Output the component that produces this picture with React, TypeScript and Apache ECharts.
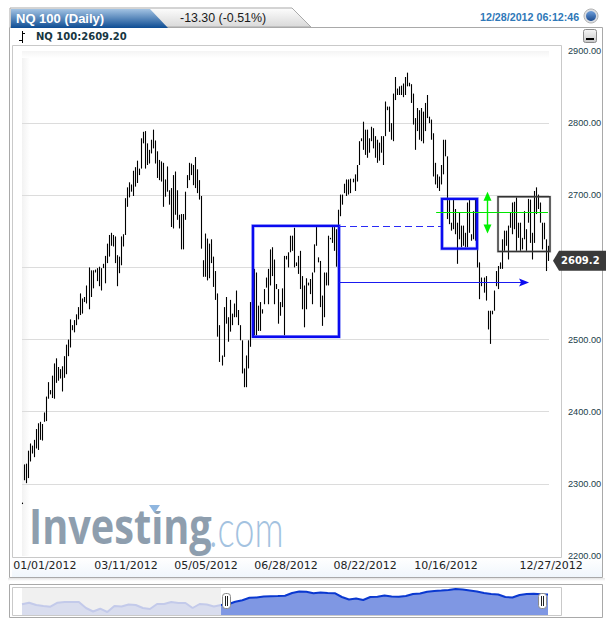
import React, { useEffect, useRef } from "react";
import * as echarts from "echarts";

const W = 613;
const H = 627;

const title = "NQ 100 (Daily)";
const change = "-13.30 (-0.51%)";
const stamp = "12/28/2012 06:12:46";
const legendText = "NQ 100:2609.20";
const lastPrice = 2609.2;
const lastPriceText = "2609.2";
const priceTicks = { min: 2200, max: 2900, interval: 100 };
const coveredTick = 2600;

const dateLabels = ["01/01/2012", "03/11/2012", "05/05/2012", "06/28/2012", "08/22/2012", "10/16/2012", "12/27/2012"];
const dateLabelBars = [6.9, 47.1, 86.8, 126.5, 165.8, 205.9, 258.1];

// daily [high, low]
const highLow: number[][] = [
  [2274, 2272],
  [2327, 2305], [2328, 2301], [2346, 2308], [2356, 2331], [2353, 2342], [2361, 2337], [2376, 2349], [2384, 2347],
  [2386, 2361], [2383, 2360], [2399, 2386], [2421, 2387], [2441, 2418], [2430, 2424],
  [2450, 2419], [2467, 2418], [2474, 2440], [2462, 2443], [2459, 2446], [2463, 2428], [2477, 2447], [2493, 2452],
  [2500, 2477], [2528, 2489], [2520, 2513], [2527, 2510], [2535, 2520], [2545, 2528], [2564, 2534], [2557, 2536],
  [2559, 2552], [2575, 2550], [2600, 2542], [2596, 2559], [2596, 2571], [2597, 2593], [2599, 2581], [2601, 2574],
  [2599, 2568], [2605, 2599], [2616, 2578], [2633, 2606], [2645, 2615], [2648, 2630], [2645, 2629], [2643, 2606],
  [2617, 2574], [2615, 2592], [2643, 2603], [2646, 2629], [2696, 2645], [2711, 2684], [2718, 2697], [2715, 2705],
  [2734, 2699], [2739, 2712], [2748, 2717], [2737, 2728], [2779, 2737], [2788, 2772], [2789, 2737],
  [2772, 2742], [2763, 2744], [2777, 2758], [2791, 2765], [2776, 2744], [2761, 2724], [2749, 2721], [2747, 2719],
  [2745, 2684], [2722, 2698], [2740, 2705], [2707, 2687], [2710, 2656], [2728, 2654], [2733, 2673], [2707, 2666],
  [2673, 2654], [2674, 2625], [2674, 2625], [2705, 2666], [2728, 2710], [2745, 2721], [2744, 2728], [2742, 2714],
  [2753, 2710], [2736, 2703], [2721, 2694], [2699, 2626], [2610, 2587], [2647, 2587], [2640, 2582], [2633, 2585],
  [2639, 2606], [2615, 2573], [2595, 2555], [2564, 2504], [2520, 2469], [2478, 2464], [2545, 2476], [2559, 2522],
  [2531, 2497], [2555, 2511], [2536, 2520], [2550, 2531], [2568, 2531], [2541, 2520], [2520, 2499], [2499, 2453],
  [2460, 2434], [2478, 2434], [2499, 2460], [2552, 2490],
  [2571, 2533], [2598, 2506], [2593, 2506], [2547, 2512], [2552, 2512], [2542, 2536], [2570, 2549], [2586, 2572],
  [2598, 2549], [2625, 2575], [2628, 2588], [2611, 2549], [2577, 2570], [2570, 2522], [2552, 2533], [2571, 2545],
  [2616, 2506], [2616, 2611], [2621, 2600], [2644, 2621], [2644, 2623], [2655, 2600], [2607, 2602], [2616, 2591],
  [2623, 2570], [2588, 2542], [2575, 2517], [2585, 2542], [2579, 2575], [2584, 2563], [2593, 2549], [2632, 2593],
  [2657, 2630], [2614, 2607], [2609, 2545], [2561, 2519], [2593, 2531], [2593, 2575], [2644, 2575], [2641, 2639],
  [2657, 2634], [2657, 2623], [2653, 2601], [2680, 2616], [2701, 2671], [2701, 2687], [2716, 2703], [2722, 2699],
  [2722, 2701], [2723, 2703], [2723, 2718], [2729, 2706], [2742, 2719], [2775, 2742], [2779, 2775], [2802, 2763],
  [2791, 2756], [2791, 2752], [2779, 2759], [2795, 2775], [2793, 2765], [2782, 2752], [2777, 2745], [2773, 2748],
  [2782, 2759], [2782, 2742], [2830, 2782], [2823, 2818], [2823, 2788], [2800, 2777], [2841, 2775], [2864, 2832],
  [2848, 2839],
  [2851, 2839], [2852, 2839], [2855, 2836], [2864, 2839], [2870, 2851], [2856, 2851], [2854, 2828], [2841, 2798],
  [2807, 2763], [2821, 2789], [2818, 2777], [2821, 2775], [2816, 2772], [2828, 2789], [2839, 2807], [2809, 2800],
  [2805, 2777], [2786, 2726], [2745, 2715], [2729, 2710], [2726, 2706], [2742, 2715], [2777, 2729], [2777, 2754],
  [2754, 2667],
  [2694, 2660], [2662, 2651], [2694, 2653], [2681, 2646], [2662, 2605], [2676, 2639], [2658, 2628], [2658, 2630],
  [2648, 2628], [2690, 2628], [2694, 2648], [2646, 2637], [2678, 2639], [2694, 2637], [2625, 2600], [2607, 2556], [2586, 2574],
  [2586, 2565], [2588, 2554], [2540, 2514], [2540, 2494], [2540, 2535], [2568, 2540], [2595, 2574], [2602, 2570],
  [2607, 2598], [2639, 2598], [2651, 2623], [2651, 2630], [2658, 2611], [2676, 2655], [2690, 2646], [2691, 2653],
  [2697, 2623], [2662, 2641], [2662, 2623], [2641, 2625], [2678, 2639], [2653, 2623], [2695, 2662], [2694, 2634], [2648, 2611],
  [2706, 2634], [2711, 2674], [2701, 2681], [2690, 2662], [2662, 2625], [2662, 2639], [2639, 2595], [2630, 2609],
];

// annotations, in bar number and price
const bigBox = [113.6, 156.3, 2657.6, 2504];
const smallBox = [207.4, 224.8, 2695, 2626];
const greyBox = [235.2, 261, 2698, 2622];
const dashedLevel = [156.3, 206.9, 2657.6];
const arrowLevel = [156.3, 250.6, 2580];
const greenLevel = [204.5, 260, 2677];
const greenSpan = [229.8, 2705, 2647];

// overview strip levels
const overviewBefore = [10.7, 12.3, 10, 9, 8.3, 12.3, 13, 13, 13, 7, 3.5, 6.3, 3, 9, 8.5, 10.5, 10, 7, 6, 11, 11, 13, 12, 12, 7, 11, 10.5, 8.5, 10];
const overviewAfter = [10, 10.8, 13.3, 14.8, 17.3, 17.5, 18.5, 18.8, 19, 19.3, 22, 23.4, 23.2, 21.7, 22.5, 22, 21.8, 18, 15.5, 16.5, 15, 18, 18.3, 19.4, 18.5, 18.2, 19, 21, 21.5, 23.2, 24, 24.4, 25, 26, 25.5, 24.5, 23.5, 22, 21, 20.5, 18, 17.5, 20, 21, 21.3, 20.7, 20.5];

const sans = "Liberation Sans";
const dejavu = "DejaVu Sans";

function gradient(x2: number, y2: number, a: string, b: string) {
  return new echarts.graphic.LinearGradient(0, 0, x2, y2, [
    { offset: 0, color: a },
    { offset: 1, color: b },
  ]);
}

function crisp(v: number) {
  return Math.round(v) + 0.5;
}

function boxItem(lineWidth: number, stroke: string, halo: string) {
  return (_: any, api: any) => {
    const a = api.coord([api.value(0), api.value(2)]);
    const b = api.coord([api.value(1), api.value(3)]);
    const shape = { x: a[0], y: a[1], width: b[0] - a[0], height: b[1] - a[1] };
    return {
      type: "group",
      children: [
        { type: "rect", shape, style: { fill: "none", stroke: halo, lineWidth: lineWidth + 1.2 } },
        { type: "rect", shape, style: { fill: "none", stroke, lineWidth } },
      ],
    };
  };
}

function levelItem(stroke: string, lineDash?: number[]) {
  return (_: any, api: any) => {
    const a = api.coord([api.value(0), api.value(2)]);
    const b = api.coord([api.value(1), api.value(2)]);
    const y = crisp(a[1]);
    return {
      type: "line",
      shape: { x1: a[0], y1: y, x2: b[0], y2: y },
      style: { stroke, lineWidth: 1, lineDash },
    };
  };
}

function App() {
  const ref = useRef<HTMLDivElement>(null);

  useEffect(() => {
    document.body.style.margin = "0";
    document.body.style.background = "#fff";
    const chart = echarts.init(ref.current!, undefined, { renderer: "svg" });

    const barSeries = {
      type: "custom",
      xAxisIndex: 0,
      yAxisIndex: 0,
      z: 3,
      clip: false,
      encode: { x: 0, y: [1, 2] },
      data: highLow.map((d, i) => [i - 1, d[0], d[1]]),
      renderItem: (_: any, api: any) => {
        const a = api.coord([api.value(0), api.value(1)]);
        const b = api.coord([api.value(0), api.value(2)]);
        const x = crisp(a[0]);
        return {
          type: "line",
          shape: { x1: x, y1: a[1], x2: x, y2: b[1] },
          style: { stroke: "#000", lineWidth: 1.1 },
        };
      },
    };

    const custom = (data: number[], renderItem: any, z = 4) => ({
      type: "custom",
      xAxisIndex: 0,
      yAxisIndex: 0,
      z,
      clip: false,
      encode: { x: 0, y: 2 },
      data: [data],
      renderItem,
    });

    const arrowSeries = custom(arrowLevel, (_: any, api: any) => {
      const a = api.coord([api.value(0), api.value(2)]);
      const b = api.coord([api.value(1), api.value(2)]);
      const y = crisp(a[1]);
      return {
        type: "group",
        children: [
          { type: "line", shape: { x1: a[0], y1: y, x2: b[0] - 3, y2: y }, style: { stroke: "#1a1af0", lineWidth: 1 } },
          {
            type: "polygon",
            shape: { points: [[b[0], y], [b[0] - 10, y - 4], [b[0] - 8, y], [b[0] - 10, y + 4]] },
            style: { fill: "#0c0cf0" },
          },
        ],
      };
    });

    const greenArrowSeries = custom(greenSpan, (_: any, api: any) => {
      const a = api.coord([api.value(0), api.value(1)]);
      const b = api.coord([api.value(0), api.value(2)]);
      const x = crisp(a[0]);
      const c = "#00f000";
      return {
        type: "group",
        children: [
          { type: "line", shape: { x1: x, y1: a[1] + 6, x2: x, y2: b[1] - 6 }, style: { stroke: c, lineWidth: 1.4 } },
          { type: "polygon", shape: { points: [[x, a[1]], [x - 4, a[1] + 9], [x + 4, a[1] + 9]] }, style: { fill: c } },
          { type: "polygon", shape: { points: [[x, b[1]], [x - 4, b[1] - 9], [x + 4, b[1] - 9]] }, style: { fill: c } },
        ],
      };
    });

    const tagY = 51 + ((priceTicks.max - lastPrice) * 505) / (priceTicks.max - priceTicks.min);

    const graphic: any[] = [
      // outer panel and tabs
      { type: "rect", z: -5, shape: { x: 9.5, y: 27.5, width: 593, height: 550 }, style: { fill: "#fff", stroke: "#a9a9a9", lineWidth: 1 } },
      { type: "rect", z: -6, shape: { x: 8, y: 578, width: 597, height: 3 }, style: { fill: gradient(0, 1, "#e4e4e4", "#ffffff") } },
      { type: "polygon", z: -4, shape: { points: [[10, 8], [292, 8], [311, 27], [10, 27]] }, style: { fill: gradient(0, 1, "#fdfdfd", "#d9d9d9"), stroke: "#a9a9a9", lineWidth: 1 } },
      { type: "polygon", z: -3, shape: { points: [[11, 9], [150, 9], [168, 28], [11, 28]] }, style: { fill: gradient(0, 1, "#a3c3e3", "#0d4c93") } },
      { type: "text", z: 20, style: { x: 16, y: 18, text: title, fill: "#fff", font: `bold 13px ${sans}`, textVerticalAlign: "middle" } },
      { type: "text", z: 20, style: { x: 180, y: 18, text: change, fill: "#1a1a1a", font: `12.4px ${sans}`, textVerticalAlign: "middle" } },
      { type: "text", z: 20, style: { x: 480, y: 17, text: stamp, fill: "#2f78b8", font: `bold 10.7px ${sans}`, textVerticalAlign: "middle" } },
      { type: "circle", z: 20, shape: { cx: 591, cy: 16, r: 7 }, style: { fill: "#dcdfe4", stroke: "#b3b3b3", lineWidth: 1 } },
      { type: "circle", z: 21, shape: { cx: 591, cy: 16, r: 5 }, style: { fill: gradient(0, 1, "#6f9fdb", "#1b4a8e") } },
      // minimise button
      { type: "rect", z: 20, shape: { x: 583.5, y: 29.5, width: 13, height: 13, r: 2 }, style: { fill: gradient(0, 1, "#f6f6f6", "#c8c8c8"), stroke: "#8c8c8c", lineWidth: 1 } },
      { type: "rect", z: 21, shape: { x: 586, y: 38, width: 8, height: 2 }, style: { fill: "#000" } },
      // legend
      { type: "line", z: 20, shape: { x1: 22.5, y1: 31, x2: 22.5, y2: 43 }, style: { stroke: "#000", lineWidth: 1 } },
      { type: "line", z: 20, shape: { x1: 19, y1: 40.5, x2: 22, y2: 40.5 }, style: { stroke: "#000", lineWidth: 1 } },
      { type: "line", z: 20, shape: { x1: 23, y1: 33.5, x2: 25, y2: 33.5 }, style: { stroke: "#000", lineWidth: 1 } },
      { type: "text", z: 20, style: { x: 36, y: 36.5, text: legendText, fill: "#17363f", font: `bold 10px ${dejavu}`, textVerticalAlign: "middle" } },
      // plot frame and faint inner shading
      { type: "rect", z: -2, shape: { x: 12.5, y: 45.5, width: 549, height: 512 }, style: { fill: "#fff", stroke: "#c9c9c9", lineWidth: 1 } },
      { type: "rect", z: -1, shape: { x: 22, y: 51, width: 8, height: 505 }, style: { fill: gradient(1, 0, "#f2f2f2", "#ffffff") } },
      { type: "rect", z: -1, shape: { x: 22, y: 51, width: 527, height: 7 }, style: { fill: gradient(0, 1, "#f4f4f4", "#ffffff") } },
      { type: "rect", z: -3, shape: { x: 12, y: 558, width: 590, height: 19 }, style: { fill: gradient(0, 1, "#ffffff", "#f0f6fc") } },
      // logo
      { type: "text", z: 0, x: 29, y: 500, scaleX: 0.81, style: { x: 0, y: 0, text: "Investing", fill: "#8e9eae", font: `700 49px "Open Sans"`, textVerticalAlign: "top" } },
      { type: "rect", z: 1, shape: { x: 148, y: 502, width: 13, height: 9 }, style: { fill: "#fff" } },
      { type: "polygon", z: 2, shape: { points: [[149, 505], [160, 505], [154.5, 513]] }, style: { fill: "#8fb6df" } },
      { type: "text", z: 0, x: 209, y: 501, scaleX: 0.71, style: { x: 0, y: 0, text: ".com", fill: "#a3c2e0", font: `300 51px Lato`, textVerticalAlign: "top" } },
      // last price tag
      { type: "polygon", z: 20, shape: { points: [[553, tagY], [559, tagY - 10], [606, tagY - 10], [606, tagY + 10], [559, tagY + 10]] }, style: { fill: "#3a3a3a" } },
      { type: "text", z: 21, style: { x: 561, y: tagY, text: lastPriceText, fill: "#fff", font: `bold 10px ${dejavu}`, textVerticalAlign: "middle" } },
      // overview frames
      { type: "rect", z: -5, shape: { x: 9.5, y: 584.5, width: 593, height: 33 }, style: { fill: "#fff", stroke: "#a9a9a9", lineWidth: 1 } },
      { type: "rect", z: -4, shape: { x: 12.5, y: 587.5, width: 549, height: 28 }, style: { fill: "#fff", stroke: "#c9c9c9", lineWidth: 1 } },
      { type: "rect", z: -3, shape: { x: 22, y: 588, width: 199, height: 27 }, style: { fill: "#f0f0f0" } },
    ];

    [226.5, 542.5].forEach((x) => {
      graphic.push(
        { type: "rect", z: 22, shape: { x: x - 4, y: 593.5, width: 8, height: 15, r: 3 }, style: { fill: "#fff", stroke: "#8a8a8a", lineWidth: 1 } },
        { type: "line", z: 23, shape: { x1: x - 1, y1: 596, x2: x - 1, y2: 606 }, style: { stroke: "#222", lineWidth: 1 } },
        { type: "line", z: 23, shape: { x1: x + 1, y1: 596, x2: x + 1, y2: 606 }, style: { stroke: "#222", lineWidth: 1 } },
      );
    });

    chart.setOption({
      animation: false,
      backgroundColor: "transparent",
      grid: [
        { left: 22, top: 51, width: 527, height: 505, containLabel: false },
        { left: 22, top: 588, width: 526, height: 27, containLabel: false },
      ],
      xAxis: [
        {
          type: "value",
          gridIndex: 0,
          min: -1,
          max: 260.5,
          axisLine: { show: false },
          axisTick: { show: false },
          splitLine: { show: false },
          axisLabel: {
            customValues: dateLabelBars,
            formatter: (v: number) => dateLabels[dateLabelBars.indexOf(v)] ?? "",
            margin: 4,
            padding: [0, 0, 0, 14],
            color: "#222",
            fontFamily: dejavu,
            fontSize: 11,
          },
        },
        { type: "value", gridIndex: 1, min: 0, max: 74, show: false },
      ],
      yAxis: [
        {
          type: "value",
          gridIndex: 0,
          position: "right",
          min: priceTicks.min,
          max: priceTicks.max,
          interval: priceTicks.interval,
          axisLine: { show: false },
          axisTick: { show: false },
          splitLine: { show: true, showMinLine: false, showMaxLine: false, lineStyle: { color: "#dcdcdc", width: 1 } },
          axisLabel: {
            margin: 19,
            align: "left",
            color: "#21404a",
            fontFamily: sans,
            fontSize: 9.2,
            formatter: (v: number) => (v === coveredTick ? "" : v.toFixed(2)),
          },
        },
        { type: "value", gridIndex: 1, min: 0, max: 27, show: false },
      ],
      series: [
        barSeries,
        custom(bigBox, boxItem(2.4, "#0a0af0", "rgba(70,90,240,0.35)")),
        custom(smallBox, boxItem(2.4, "#0a0af0", "rgba(70,90,240,0.35)")),
        custom(greyBox, boxItem(1.4, "#333", "rgba(120,120,120,0.3)")),
        custom(dashedLevel, levelItem("#2a2af5", [7, 4])),
        arrowSeries,
        custom(greenLevel, levelItem("#00e600")),
        greenArrowSeries,
        {
          type: "line",
          xAxisIndex: 1,
          yAxisIndex: 1,
          z: 3,
          symbol: "none",
          lineStyle: { color: "#c3caea", width: 2 },
          areaStyle: { color: "#d9ddee", opacity: 1 },
          data: overviewBefore.map((v, i) => [i, v]),
        },
        {
          type: "line",
          xAxisIndex: 1,
          yAxisIndex: 1,
          z: 3,
          symbol: "none",
          lineStyle: { color: "#0a38d0", width: 2 },
          areaStyle: { color: "#7f97e3", opacity: 1 },
          data: overviewAfter.map((v, i) => [i + overviewBefore.length - 1, v]),
        },
      ],
      graphic,
    });

    return () => chart.dispose();
  }, []);

  return <div ref={ref} style={{ width: W, height: H }} />;
}

export default App;
